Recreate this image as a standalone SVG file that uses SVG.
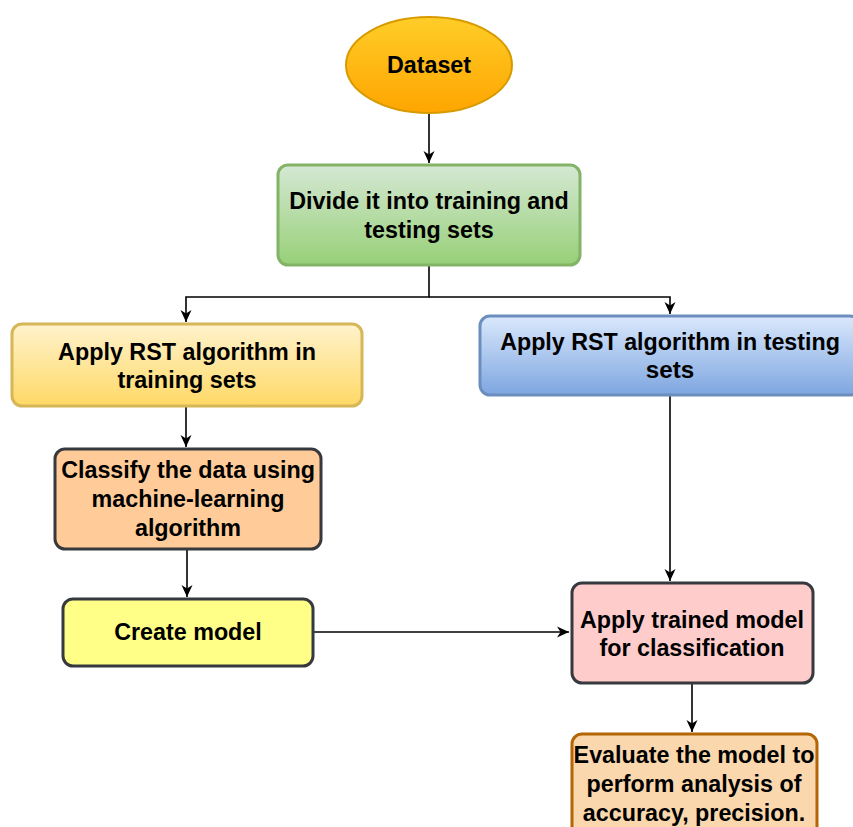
<svg xmlns="http://www.w3.org/2000/svg" width="853" height="827" viewBox="0 0 853 827">
<defs>
<linearGradient id="gOrange" x1="0" y1="0" x2="0" y2="1"><stop offset="0" stop-color="#ffcd28"/><stop offset="1" stop-color="#ffa500"/></linearGradient>
<linearGradient id="gGreen" x1="0" y1="0" x2="0" y2="1"><stop offset="0" stop-color="#d5e8d4"/><stop offset="1" stop-color="#97d077"/></linearGradient>
<linearGradient id="gYellow" x1="0" y1="0" x2="0" y2="1"><stop offset="0" stop-color="#fff2cc"/><stop offset="1" stop-color="#ffd966"/></linearGradient>
<linearGradient id="gBlue" x1="0" y1="0" x2="0" y2="1"><stop offset="0" stop-color="#dae8fc"/><stop offset="1" stop-color="#7ea6e0"/></linearGradient>
<marker id="arr" viewBox="0 0 12 12" refX="12" refY="6" markerWidth="12" markerHeight="12" markerUnits="userSpaceOnUse" orient="auto">
<path d="M0,0.5 L12,6 L0,11.5 L3.5,6 Z" fill="#000"/>
</marker>
</defs>
<style>
text{font-family:"Liberation Sans",Arial,sans-serif;font-weight:bold;font-size:23.3px;fill:#000;text-anchor:middle}
.nar{font-size:24.5px}
.c{fill:none;stroke:#000;stroke-width:1.6}
.n{stroke-width:3}
</style>
<g id="connectors">
<path class="c" d="M429,114 L429,163" marker-end="url(#arr)"/>
<path class="c" d="M429,266 L429,297 L186,297 L186,322" marker-end="url(#arr)"/>
<path class="c" d="M429,297 L670,297 L670,314" marker-end="url(#arr)"/>
<path class="c" d="M186,407 L186,447" marker-end="url(#arr)"/>
<path class="c" d="M187,549 L187,597" marker-end="url(#arr)"/>
<path class="c" d="M313,632 L569,632" marker-end="url(#arr)"/>
<path class="c" d="M670,395 L670,581" marker-end="url(#arr)"/>
<path class="c" d="M692,683 L692,732" marker-end="url(#arr)"/>
</g>
<g id="dataset">
<ellipse cx="429" cy="65" rx="83" ry="48" fill="url(#gOrange)" stroke="#d79b00" stroke-width="2"/>
<text x="429" y="73">Dataset</text>
</g>
<g id="divide">
<rect x="278" y="165" width="302" height="100" rx="10" fill="url(#gGreen)" stroke="#82b366" class="n"/>
<text x="429" y="209">Divide it into training and</text>
<text x="429" y="238">testing sets</text>
</g>
<g id="rst-train">
<rect x="12" y="324" width="350" height="82" rx="10" fill="url(#gYellow)" stroke="#d6b656" class="n"/>
<g transform="translate(187,0) scale(0.88,1)">
<text class="nar" x="0" y="360" textLength="293" lengthAdjust="spacingAndGlyphs">Apply RST algorithm in</text>
<text class="nar" x="0" y="388" textLength="158" lengthAdjust="spacingAndGlyphs">training sets</text>
</g>
</g>
<g id="rst-test">
<rect x="480" y="316" width="380" height="79" rx="10" fill="url(#gBlue)" stroke="#6c8ebf" class="n"/>
<g transform="translate(670,0) scale(0.88,1)">
<text class="nar" x="0" y="350" textLength="386" lengthAdjust="spacingAndGlyphs">Apply RST algorithm in testing</text>
<text class="nar" x="0" y="378" textLength="55" lengthAdjust="spacingAndGlyphs">sets</text>
</g>
</g>
<g id="classify">
<rect x="55" y="449" width="266" height="100" rx="10" fill="#ffcc99" stroke="#36393d" class="n"/>
<text x="188" y="478">Classify the data using</text>
<text x="188" y="507">machine-learning</text>
<text x="188" y="536">algorithm</text>
</g>
<g id="create">
<rect x="63" y="599" width="250" height="67" rx="10" fill="#ffff88" stroke="#36393d" class="n"/>
<text x="188" y="640">Create model</text>
</g>
<g id="apply-trained">
<rect x="572" y="583" width="241" height="100" rx="10" fill="#ffcccc" stroke="#36393d" class="n"/>
<text x="692" y="628">Apply trained model</text>
<text x="692" y="656">for classification</text>
</g>
<g id="evaluate">
<rect x="572" y="734" width="245" height="110" rx="10" fill="#fad7ac" stroke="#b46504" class="n"/>
<text x="694" y="763">Evaluate the model to</text>
<text x="694" y="792">perform analysis of</text>
<text x="694" y="821">accuracy, precision.</text>
</g>
</svg>
